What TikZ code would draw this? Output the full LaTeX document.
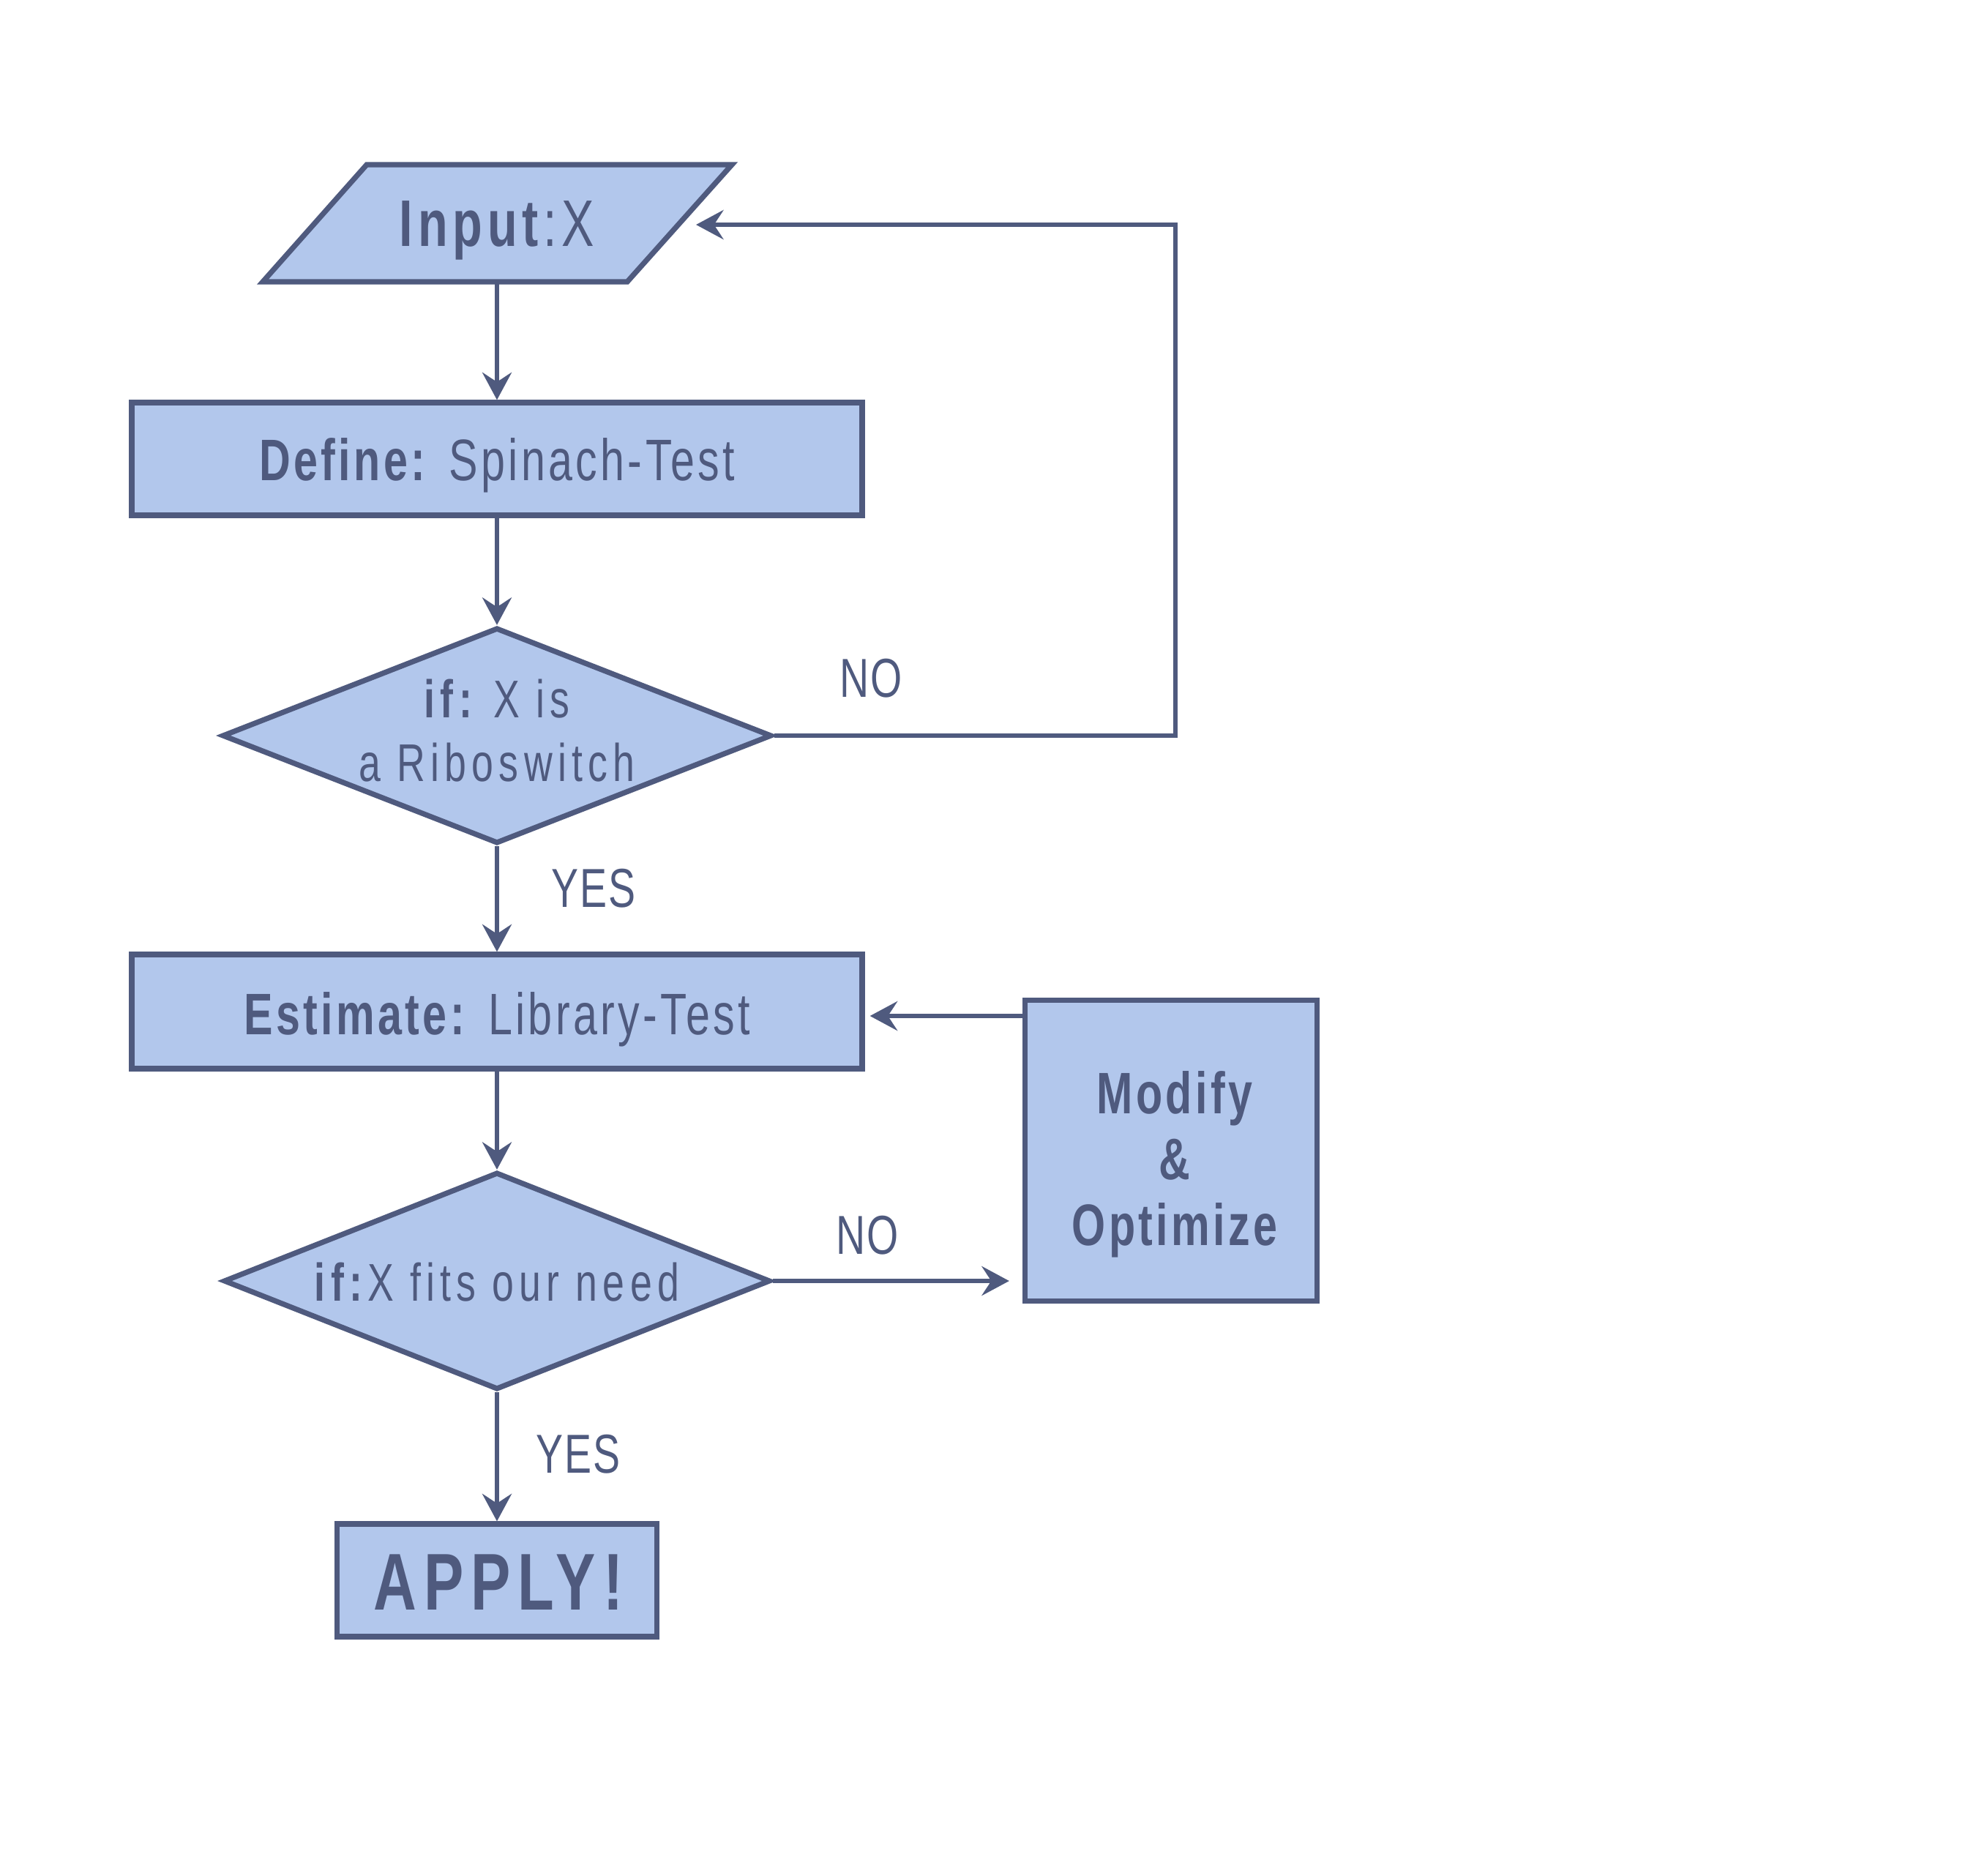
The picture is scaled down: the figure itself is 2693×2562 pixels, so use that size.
\documentclass[tikz,border=0pt]{standalone}
\usepackage{fontspec}
\setmainfont[FakeStretch=0.74,LetterSpace=3]{Liberation Sans}
\usetikzlibrary{shapes.geometric,arrows.meta}
\definecolor{ink}{HTML}{4F5A7E}
\definecolor{boxfill}{HTML}{B2C7EC}
\tikzset{
  x=0.2pt, y=-0.2pt,
  every node/.style={text=ink, inner sep=0pt, align=center},
  flowbox/.style={draw=ink, fill=boxfill, line width=1.45pt, rectangle},
  decision/.style={draw=ink, fill=boxfill, line width=1.45pt, diamond},
  conn/.style={draw=ink, line width=1.35pt, -{Stealth[length=7.5pt,width=8pt,inset=2.6pt]}},
  lbl/.style={font=\fontsize{15pt}{18pt}\selectfont},
}
\begin{document}
\begin{tikzpicture}
\useasboundingbox (0,0) rectangle (2693,2562);
% input parallelogram
\fill[boxfill] (501,225) -- (1000,225) -- (857,385) -- (359,385) -- cycle;
\draw[ink, line width=1.45pt, line join=miter] (501,225) -- (1000,225) -- (857,385) -- (359,385) -- cycle;
\node[minimum width=99.6pt, minimum height=32pt] (input) at (679,307) {};
\node[font={\fontsize{18pt}{21pt}\selectfont\addfontfeatures{LetterSpace=7.5}}] (inputtext) at (679,315) {\textbf{Input}:X};

\node[flowbox, minimum width=199.6pt, minimum height=30.8pt] (define) at (679,627) {};
\node[font={\fontsize{16pt}{19pt}\selectfont\addfontfeatures{LetterSpace=5.5}}] (definetext) at (679,636) {\textbf{Define:} Spinach-Test};

\node[decision, aspect=2.55, minimum width=150.2pt, minimum height=59pt] (d1) at (679,1005) {};
\node[font={\fontsize{14.5pt}{17.4pt}\selectfont\addfontfeatures{LetterSpace=10}}] (d1text) at (679,998) {\textbf{if:}\hspace{-1.5pt} X is\\a Riboswitch};

\node[flowbox, minimum width=199.6pt, minimum height=31.2pt] (estimate) at (679,1382) {};
\node[font={\fontsize{16pt}{19pt}\selectfont\addfontfeatures{LetterSpace=5.5}}] (estimatetext) at (679,1393) {\textbf{Estimate:} Library-Test};

\node[flowbox, minimum width=79.8pt, minimum height=82.2pt] (modify) at (1600,1572) {};
\node[font={\bfseries\fontsize{16pt}{18pt}\selectfont\addfontfeatures{LetterSpace=5.5}}] (modifytext) at (1605,1591) {Modify\\\&\\Optimize};

\node[decision, aspect=2.52, minimum width=149.4pt, minimum height=59.4pt] (d2) at (679,1750) {};
\node[font={\fontsize{14.5pt}{17.4pt}\selectfont\addfontfeatures{LetterSpace=10}}] (d2text) at (679,1752) {\textbf{if:}X fits our need};

\node[flowbox, minimum width=87.4pt, minimum height=30.8pt] (apply) at (679,2159) {};
\node[font={\bfseries\fontsize{22pt}{26pt}\selectfont\addfontfeatures{LetterSpace=9}}] (applytext) at (681,2162) {APPLY!};

% labels
\node[lbl] (no1) at (1190,927) {NO};
\node[lbl] (yes1) at (811,1214) {YES};
\node[lbl] (no2) at (1185,1688) {NO};
\node[lbl] (yes2) at (790,1987) {YES};

% connectors
\coordinate (loopbot) at (1606,1005);
\coordinate (looptop) at (1606,307);
\draw[conn] (input.south) -- (define.north);
\draw[conn] (define.south) -- (d1.north);
\draw[conn] (d1.south) -- (estimate.north);
\draw[conn] (estimate.south) -- (d2.north);
\draw[conn] (d2.south) -- (apply.north);
\draw[conn] (d1.east) -- (loopbot) -- (looptop) -- ([xshift=4.4pt]input.east);
\draw[conn] (d2.east) -- ([xshift=-3.6pt]modify.west |- d2.east);
\draw[conn] ([yshift=-1.2pt]modify.west |- estimate.east) -- ([xshift=1.4pt,yshift=-1.2pt]estimate.east);
\end{tikzpicture}
\end{document}
